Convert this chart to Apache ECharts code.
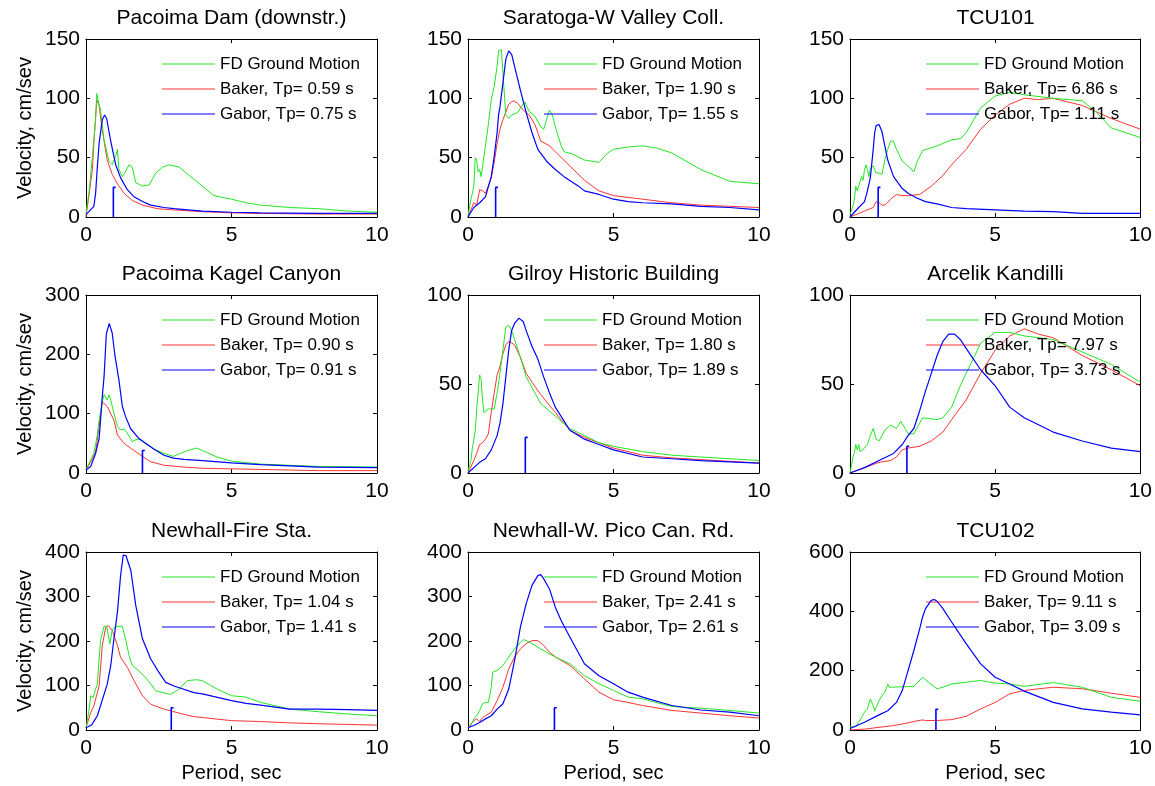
<!DOCTYPE html>
<html>
<head>
<meta charset="utf-8">
<script src="https://cdn.jsdelivr.net/npm/echarts@6/dist/echarts.min.js"></script>
<style>
html,body{margin:0;padding:0;background:#fff;}
#chart{width:1155px;height:786px;}
</style>
</head>
<body>
<div id="chart"></div>
<script>
// ---------- data ----------
const titles = ['Pacoima Dam (downstr.)','Saratoga-W Valley Coll.','TCU101',
  'Pacoima Kagel Canyon','Gilroy Historic Building','Arcelik Kandilli',
  'Newhall-Fire Sta.','Newhall-W. Pico Can. Rd.','TCU102'];
const bakerTp = ['0.59','1.90','6.86','0.90','1.80','7.97','1.04','2.41','9.11'];
const gaborTp = ['0.75','1.55','1.11','0.91','1.89','3.73','1.41','2.61','3.09'];
const yMax  = [150,150,150,300,100,100,400,400,600];
const yStep = [50,50,50,100,50,50,100,100,200];
const xTicks = [0,5,10];
const markerX = [0.94,0.95,0.97,1.94,1.97,1.96,2.93,2.97,2.96];
const markerH = [25,25,25,38,20,15,50,50,70];

const p1FD = [[0,3],[0.05,12],[0.1,20],[0.22,51],[0.27,65],[0.33,82],[0.37,104],[0.41,99],[0.5,90],[0.62,65],[0.79,47],[0.9,44],[1.02,51],[1.08,57],[1.13,40],[1.25,34],[1.33,37],[1.48,44],[1.59,42],[1.71,29],[1.94,26],[2.17,27],[2.4,37],[2.63,42],[2.85,44],[3.2,42],[3.6,34],[4.0,26],[4.4,18],[5.0,15],[5.5,12],[6,10],[7,8],[8,7],[9,5],[10,4]];
const p1BK = [[0,0],[0.1,18],[0.22,40],[0.27,62],[0.37,99],[0.45,94],[0.56,73],[0.73,48],[0.9,36],[1.08,28],[1.31,20],[1.59,14],[1.94,10],[2.45,7],[3,6],[4,4.5],[5,3.5],[6,3],[8,2.5],[10,2.5]];
const p1GB = [[0,2],[0.27,9],[0.33,20],[0.39,42],[0.45,62],[0.56,82],[0.64,86],[0.71,83],[0.85,64],[1.02,44],[1.19,33],[1.42,23],[1.65,17],[1.94,13],[2.22,10],[2.68,8],[3.02,7],[3.5,6],[4,5],[5,4],[6,3.5],[8,3],[10,3]];

const p2FD = [[0,1],[0.1,15],[0.15,20],[0.2,26],[0.25,50],[0.3,48],[0.35,38],[0.4,40],[0.45,34],[0.5,43],[0.6,60],[0.7,78],[0.8,99],[0.9,110],[1.0,127],[1.05,140],[1.15,141],[1.2,121],[1.3,86],[1.4,83],[1.5,86],[1.7,88],[1.95,97],[2.1,89],[2.3,85],[2.5,76],[2.6,74],[2.8,90],[2.9,86],[3.0,76],[3.2,60],[3.3,55],[3.6,53],[4.0,48],[4.5,46],[4.8,54],[5.0,57],[5.5,59],[6.0,60],[6.5,58],[7.0,54],[8.0,40],[9.0,30],[10,28]];
const p2BK = [[0,0],[0.2,12],[0.3,10],[0.4,23],[0.5,22],[0.6,20],[0.8,33],[0.9,46],[1.0,62],[1.1,74],[1.2,82],[1.4,95],[1.55,98],[1.7,96],[1.9,90],[2.1,86],[2.3,78],[2.5,64],[2.8,60],[3.0,55],[3.5,43],[4,31],[4.5,22],[5,18],[6,15],[7,12],[8,10],[9,9],[10,8]];
const p2GB = [[0,0],[0.2,8],[0.4,12],[0.6,17],[0.8,34],[0.9,51],[1.0,71],[1.05,86],[1.1,93],[1.2,113],[1.3,133],[1.4,140],[1.5,137],[1.6,127],[1.8,107],[2.0,88],[2.2,71],[2.4,57],[2.7,47],[3.0,40],[3.3,34],[3.8,26],[4.0,22],[4.5,19],[5,15],[5.5,13],[6,12],[7,11],[8,9],[9,8],[10,6]];

const p3FD = [[0,2],[0.1,9],[0.15,15],[0.2,26],[0.25,22],[0.3,22],[0.4,34],[0.45,31],[0.5,40],[0.55,44],[0.6,40],[0.65,34],[0.7,41],[0.75,40],[0.8,43],[0.9,37],[1.0,37],[1.1,36],[1.2,48],[1.3,57],[1.4,64],[1.5,64],[1.6,57],[1.8,47],[2.0,43],[2.2,38],[2.3,46],[2.5,56],[3.0,60],[3.5,65],[3.8,66],[4.0,71],[4.5,92],[5.0,102],[5.5,105],[6,103],[7,100],[8,98],[8.5,88],[9,75],[10,67]];
const p3BK = [[0,0],[0.3,3],[0.5,5],[0.8,8],[0.9,13],[1.0,12],[1.1,10],[1.2,10],[1.4,15],[1.6,19],[1.8,18],[2.0,18],[2.4,19],[2.8,26],[3.2,35],[3.5,44],[4,57],[4.5,74],[5,86],[5.5,95],[6,100],[6.5,99],[7,100],[8,94],[9,83],[10,74]];
const p3GB = [[0,0],[0.3,8],[0.5,13],[0.6,22],[0.7,33],[0.8,57],[0.85,71],[0.9,77],[1.0,78],[1.1,72],[1.2,60],[1.3,48],[1.5,34],[1.8,24],[2.0,20],[2.3,16],[2.6,13],[3,11],[3.5,8],[4,7],[5,6],[6,5],[7,4.5],[8,3],[10,3]];

const p4FD = [[0,5],[0.05,8],[0.16,22],[0.27,33],[0.39,64],[0.45,89],[0.56,120],[0.62,132],[0.68,129],[0.73,123],[0.79,132],[0.85,123],[0.96,101],[1.08,78],[1.19,73],[1.31,74],[1.42,67],[1.59,53],[1.71,56],[1.82,57],[1.94,53],[2.11,47],[2.4,39],[2.68,33],[3.0,28],[3.25,33],[3.5,38],[3.8,42],[4.0,38],[4.5,27],[5,20],[6,15],[7,13],[8,11],[10,10]];
const p4BK = [[0,5],[0.16,19],[0.33,36],[0.45,78],[0.56,120],[0.62,123],[0.73,112],[0.96,89],[1.08,64],[1.31,50],[1.53,42],[1.88,30],[2.22,19],[2.68,13],[3.37,10],[4,8],[5,7],[7,5],[8,4],[10,4]];
const p4GB = [[0,5],[0.16,11],[0.33,33],[0.45,58],[0.5,89],[0.56,129],[0.62,162],[0.7,235],[0.8,252],[0.9,236],[1.0,196],[1.13,157],[1.25,112],[1.36,95],[1.53,75],[1.82,58],[2.05,50],[2.34,40],[2.68,30],[3.0,25],[3.37,23],[4,21],[5,17],[6,14],[7,12],[8,10],[10,9]];

const p5FD = [[0,1],[0.1,7],[0.15,14],[0.2,19],[0.25,24],[0.3,36],[0.35,37],[0.4,55],[0.45,53],[0.5,41],[0.55,34],[0.6,34],[0.7,36],[0.9,36],[1.0,45],[1.1,56],[1.2,69],[1.3,82],[1.4,83],[1.5,80],[1.6,75],[1.8,65],[2.0,54],[2.2,48],[2.5,39],[3.0,32],[3.5,25],[4,21],[4.5,17],[5,15],[6,12],[7,10],[8,9],[9,8],[10,7]];
const p5BK = [[0,0],[0.2,7],[0.3,11],[0.4,16],[0.5,17],[0.6,19],[0.7,22],[0.8,34],[0.9,45],[1.0,55],[1.1,60],[1.2,67],[1.3,72],[1.4,74],[1.5,73],[1.6,72],[1.8,65],[2.0,56],[2.2,51],[2.5,44],[3,34],[3.5,24],[4,20],[4.5,17],[5,14],[6,10],[7,8.5],[8,7.5],[10,5.6]];
const p5GB = [[0,0],[0.2,3],[0.4,6],[0.6,8],[0.8,13],[1.0,21],[1.1,28],[1.2,39],[1.3,54],[1.4,69],[1.5,80],[1.6,84],[1.75,87],[1.9,85],[2.0,80],[2.2,71],[2.4,64],[2.6,54],[2.8,45],[3.0,37],[3.5,24],[4.0,19],[4.5,16],[5,13],[6,9],[7,8],[8,7],[10,5.6]];

const p6FD = [[0,0],[0.05,4],[0.1,9],[0.15,11],[0.2,16],[0.25,13],[0.3,16],[0.35,12],[0.4,13],[0.5,14],[0.6,16],[0.7,21],[0.8,25],[0.9,19],[1.0,18],[1.2,24],[1.4,27],[1.6,25],[1.75,29],[1.9,25],[2.0,22],[2.2,22],[2.4,28],[2.5,31],[3.0,30],[3.2,31],[3.5,37],[3.8,49],[4.0,56],[4.3,66],[4.5,73],[5.0,79],[5.5,79],[6,77],[7,75],[8,68],[9,61],[10,51]];
const p6BK = [[0,0],[0.5,3],[1.0,6],[1.4,7],[1.6,9],[1.8,13],[2.0,14],[2.4,15],[2.8,18],[3.2,23],[3.5,30],[4.0,41],[4.5,56],[5.0,69],[5.5,77],[6.0,81],[6.5,78],[7,76],[8,66],[9,58],[10,49]];
const p6GB = [[0,0],[0.5,3],[1.0,7],[1.5,11],[1.8,16],[2.0,21],[2.2,25],[2.4,35],[2.6,46],[2.8,56],[3.0,66],[3.2,74],[3.4,78],[3.6,78],[3.8,75],[4.0,70],[4.5,58],[5.0,49],[5.5,37],[6,31],[7,23],[8,18],[9,14],[10,12]];

const p7FD = [[0,5],[0.1,43],[0.16,77],[0.25,73],[0.33,92],[0.39,103],[0.45,160],[0.5,201],[0.62,233],[0.71,233],[0.82,194],[0.9,224],[1.02,233],[1.25,233],[1.37,201],[1.48,167],[1.59,145],[1.82,133],[2.1,114],[2.4,88],[2.91,80],[3.2,92],[3.48,111],[3.8,113],[4.0,111],[4.5,92],[5.0,77],[5.5,74],[6,62],[7,47],[8,41],[9,36],[10,32]];
const p7BK = [[0,5],[0.16,39],[0.27,54],[0.45,99],[0.56,190],[0.68,231],[0.76,235],[0.9,224],[1.08,190],[1.19,163],[1.42,141],[1.65,111],[1.94,77],[2.22,58],[2.68,47],[3.37,35],[3.71,30],[4,28],[5,21],[6,19],[7,16],[8,14],[10,11]];
const p7GB = [[0,5],[0.2,12],[0.39,32],[0.62,80],[0.73,103],[0.85,145],[0.96,205],[1.08,265],[1.19,348],[1.28,393],[1.37,392],[1.54,359],[1.71,280],[1.94,205],[2.22,160],[2.5,130],[2.74,107],[3.02,99],[3.71,84],[4,81],[5,66],[5.5,60],[6,56],[7,47],[8,47],[9,46],[10,44]];

const p8FD = [[0,5],[0.1,10],[0.2,25],[0.3,32],[0.4,44],[0.5,59],[0.6,62],[0.7,62],[0.8,96],[0.85,130],[1.0,134],[1.2,145],[1.4,164],[1.6,182],[1.8,197],[1.9,203],[2.0,201],[2.2,194],[2.5,182],[3.0,164],[3.5,149],[4,122],[4.5,104],[5.0,89],[5.5,74],[6,70],[7,53],[8,49],[9,44],[10,38]];
const p8BK = [[0,5],[0.2,21],[0.3,25],[0.4,19],[0.5,28],[0.6,32],[0.8,40],[1.0,66],[1.2,96],[1.4,137],[1.6,164],[1.8,182],[2.0,194],[2.2,201],[2.4,201],[2.6,190],[2.8,175],[3.0,164],[3.5,145],[4,115],[4.5,85],[5.0,68],[5.5,62],[6,55],[7,44],[8,38],[9,32],[10,27]];
const p8GB = [[0,5],[0.2,10],[0.4,17],[0.6,25],[0.8,32],[1.0,47],[1.2,59],[1.4,92],[1.6,156],[1.8,231],[2.0,284],[2.2,325],[2.4,347],[2.5,349],[2.6,340],[2.8,317],[3.0,276],[3.2,246],[3.5,209],[4.0,149],[4.5,122],[5,104],[5.5,85],[6,74],[7,55],[8,45],[9,40],[10,32]];

const p9FD = [[0,10],[0.2,11],[0.3,26],[0.4,43],[0.5,60],[0.55,65],[0.6,71],[0.7,105],[0.75,99],[0.8,82],[0.85,63],[0.9,77],[1.0,99],[1.1,116],[1.2,127],[1.3,155],[1.35,144],[1.4,147],[2.2,147],[2.5,178],[2.7,161],[3.0,139],[3.2,144],[3.5,155],[4.0,161],[4.5,167],[5.0,158],[5.5,155],[6,147],[7,160],[8,144],[9,110],[10,97]];
const p9BK = [[0,0],[0.5,3],[1.0,9],[1.5,15],[2.0,24],[2.2,29],[2.5,34],[2.6,32],[3.0,32],[3.5,35],[4.0,46],[4.5,71],[5,93],[5.5,122],[6,133],[6.5,139],[7,144],[8,139],[9,124],[10,110]];
const p9GB = [[0,5],[0.5,26],[1.0,51],[1.3,65],[1.6,93],[1.8,133],[2.0,200],[2.2,268],[2.4,341],[2.5,381],[2.6,409],[2.8,437],[2.9,440],[3.0,434],[3.2,409],[3.5,364],[4.0,291],[4.5,223],[5.0,178],[5.5,155],[6,131],[7,93],[8,71],[9,60],[10,51]];

const fdData = [p1FD,p2FD,p3FD,p4FD,p5FD,p6FD,p7FD,p8FD,p9FD];
const bkData = [p1BK,p2BK,p3BK,p4BK,p5BK,p6BK,p7BK,p8BK,p9BK];
const gbData = [p1GB,p2GB,p3GB,p4GB,p5GB,p6GB,p7GB,p8GB,p9GB];

// ---------- layout / style ----------
const FONT = '"Liberation Sans", Arial, sans-serif';
const colLeft = [86, 468, 850];
const rowTop = [39, 295, 552];
const GW = 291, GH = 178;
const C_FD = '#22e622', C_BK = '#ff3333', C_GB = '#0000ff';

const grids = [], xAxes = [], yAxes = [], series = [], legends = [], titleArr = [];
for (let i = 0; i < 9; i++) {
  const r = Math.floor(i / 3), c = i % 3;
  const L = colLeft[c], T = rowTop[r];
  grids.push({left: L, top: T, width: GW, height: GH});
  const axLine = {show: true, onZero: false, lineStyle: {color: '#000', width: 1}};
  const tick = {show: true, inside: true, length: 4, lineStyle: {color: '#000'}};
  xAxes.push({
    gridIndex: i, type: 'value', min: xTicks[0], max: xTicks[2], interval: xTicks[1] - xTicks[0],
    position: 'bottom', axisLine: axLine, axisTick: tick, splitLine: {show: false},
    axisLabel: {color: '#000', fontSize: 21, fontFamily: FONT, margin: 8},
    name: r === 2 ? 'Period, sec' : '', nameLocation: 'middle', nameGap: 33,
    nameTextStyle: {color: '#000', fontSize: 20, fontFamily: FONT}
  });
  xAxes.push({
    gridIndex: i, type: 'value', min: xTicks[0], max: xTicks[2], interval: xTicks[1] - xTicks[0],
    position: 'top', axisLine: axLine, axisTick: tick, splitLine: {show: false},
    axisLabel: {show: false}
  });
  yAxes.push({
    gridIndex: i, type: 'value', min: 0, max: yMax[i], interval: yStep[i],
    position: 'left', axisLine: axLine, axisTick: tick, splitLine: {show: false},
    axisLabel: {color: '#000', fontSize: 21, fontFamily: FONT, margin: 6},
    name: c === 0 ? 'Velocity, cm/sev' : '', nameLocation: 'middle', nameGap: 51,
    nameTextStyle: {color: '#000', fontSize: 20, fontFamily: FONT}
  });
  yAxes.push({
    gridIndex: i, type: 'value', min: 0, max: yMax[i], interval: yStep[i],
    position: 'right', axisLine: axLine, axisTick: tick, splitLine: {show: false},
    axisLabel: {show: false}
  });
  const bkName = 'Baker, Tp= ' + bakerTp[i] + ' s';
  const gbName = 'Gabor, Tp= ' + gaborTp[i] + ' s';
  const base = {type: 'line', xAxisIndex: 2 * i, yAxisIndex: 2 * i, symbol: 'none', animation: false, silent: true};
  series.push(Object.assign({}, base, {name: 'FD Ground Motion', data: fdData[i], lineStyle: {color: C_FD, width: 1}, itemStyle: {color: C_FD}, z: 3}));
  series.push(Object.assign({}, base, {name: bkName, data: bkData[i], lineStyle: {color: C_BK, width: 1}, itemStyle: {color: C_BK}, z: 2}));
  series.push(Object.assign({}, base, {name: gbName, data: gbData[i], lineStyle: {color: C_GB, width: 1.2}, itemStyle: {color: C_GB}, z: 4}));
  series.push(Object.assign({}, base, {name: 'marker' + i,
    data: [[markerX[i], 0], [markerX[i], markerH[i]], [markerX[i] + 0.08, markerH[i]]],
    lineStyle: {color: C_GB, width: 1.6}, itemStyle: {color: C_GB}, z: 5}));
  legends.push({
    left: L + 76, top: T + 16, orient: 'vertical', padding: 0, itemGap: 7,
    itemWidth: 53, itemHeight: 1, icon: 'rect', selectedMode: false,
    data: ['FD Ground Motion', bkName, gbName],
    textStyle: {color: '#000', fontSize: 17, fontFamily: FONT, lineHeight: 18, padding: [0,0,0,0]}
  });
  titleArr.push({
    text: titles[i], left: L + GW / 2, top: T - 31, textAlign: 'center', padding: 0,
    textStyle: {color: '#000', fontSize: 21, fontWeight: 'normal', fontFamily: FONT}
  });
}

const chart = echarts.init(document.getElementById('chart'), null, {renderer: 'canvas'});
chart.setOption({
  backgroundColor: '#fff',
  animation: false,
  title: titleArr,
  legend: legends,
  grid: grids,
  xAxis: xAxes,
  yAxis: yAxes,
  series: series
});
</script>
</body>
</html>
